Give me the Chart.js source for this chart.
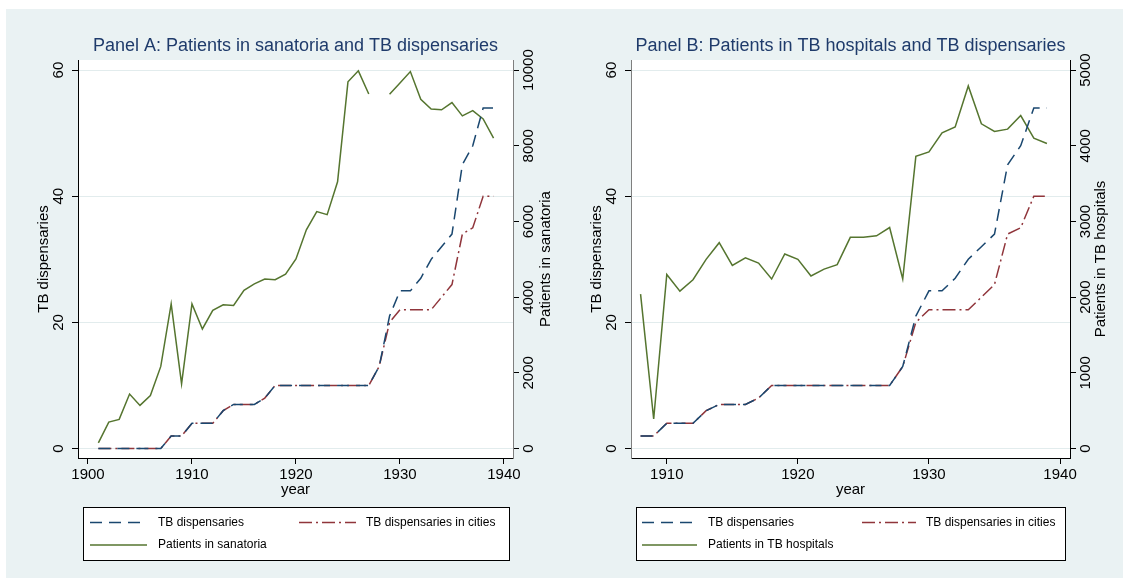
<!DOCTYPE html>
<html>
<head>
<meta charset="utf-8">
<script src="https://cdn.jsdelivr.net/npm/chart.js@4.4.1/dist/chart.umd.min.js"></script>
<style>
body{margin:0;background:#fff;width:1130px;height:586px;position:relative;overflow:hidden}
#bg{position:absolute;left:6px;top:9px;width:1117px;height:569px;background:#eaf2f3}
canvas{position:absolute;top:0}
#cA{left:0}
#cB{left:565px}
</style>
</head>
<body>
<div id="bg"></div>
<canvas id="cA" width="565" height="586"></canvas>
<canvas id="cB" width="565" height="586"></canvas>
<script>
/* ---- data ---- */
var yearsA=[1901,1902,1903,1904,1905,1906,1907,1908,1909,1910,1911,1912,1913,1914,1915,1916,1917,1918,1919,1920,
  1921,1922,1923,1924,1925,1926,1927,1928,1929,1930,1931,1932,1933,1934,1935,1936,1937,1938,1939];
var dispA=[0,0,0,0,0,0,0,2,2,4,4,4,6,7,7,7,8,10,10,10,10,10,10,10,10,10,10,13,21,25,25,27,30,32,34,45,48,54,54];
var citiesA=[0,0,0,0,0,0,0,2,2,4,4,4,6,7,7,7,8,10,10,10,10,10,10,10,10,10,10,13,20,22,22,22,22,24,26,34,35,40,40];
var sanatoria=[150,700,770,1440,1140,1400,2170,3820,1710,3820,3160,3650,3800,3780,4180,4350,4480,4460,4610,5010,
  5780,6260,6180,7050,9690,9980,9370,null,9360,9660,9960,9230,8970,8950,9140,8790,8930,8710,8200];

var yearsB=[1908,1909,1910,1911,1912,1913,1914,1915,1916,1917,1918,1919,1920,1921,1922,1923,1924,1925,1926,1927,
  1928,1929,1930,1931,1932,1933,1934,1935,1936,1937,1938,1939];
var dispB=[2,2,4,4,4,6,7,7,7,8,10,10,10,10,10,10,10,10,10,10,13,21,25,25,27,30,32,34,45,48,54,54];
var citiesB=[2,2,4,4,4,6,7,7,7,8,10,10,10,10,10,10,10,10,10,10,13,20,22,22,22,22,24,26,34,35,40,40];
var hospitals=[2040,390,2300,2080,2230,2500,2720,2420,2520,2450,2240,2570,2500,2280,2370,2430,2790,2790,2810,2920,
  2240,3860,3920,4170,4250,4790,4290,4190,4220,4400,4100,4030];

var ticksXA=[1900,1910,1920,1930,1940];
var ticksXB=[1910,1920,1930,1940];
var ticksLeft=[0,20,40,60];
var ticksRightA=[0,2000,4000,6000,8000,10000];
var ticksRightB=[0,1000,2000,3000,4000,5000];

var FONT='"Liberation Sans",Arial,sans-serif';
var NAVY='#1a476f', MAROON='#90353b', GREEN='#55752f';

function pts(xs,ys){return xs.map(function(v,i){return {x:v,y:ys[i]};});}

function rotText(ctx,txt,x,y){
  ctx.save();ctx.translate(x,y);ctx.rotate(-Math.PI/2);
  ctx.textAlign='center';ctx.textBaseline='middle';ctx.fillText(txt,0,0);ctx.restore();
}

var deco={id:'deco',
  beforeDraw:function(c){
    var a=c.chartArea,x=c.ctx;
    x.save();x.fillStyle='#fff';x.fillRect(a.left,a.top,a.right-a.left,a.bottom-a.top);x.restore();
  },
  afterDraw:function(c){
    var o=c.options.plugins.deco,a=c.chartArea,x=c.ctx,cx=(a.left+a.right)/2,cy=(a.top+a.bottom)/2;
    x.save();
    x.fillStyle='#000';
    x.font='15px '+FONT;
    var sy=c.scales.y,sy1=c.scales.y1;
    sy.ticks.forEach(function(t){rotText(x,String(t.value),a.left-19,sy.getPixelForValue(t.value));});
    sy1.ticks.forEach(function(t){rotText(x,String(t.value),a.right+16,sy1.getPixelForValue(t.value));});
    rotText(x,o.leftTitle,a.left-34,cy);
    rotText(x,o.rightTitle,a.right+o.rightTitleOff,cy);
    x.textAlign='center';x.textBaseline='middle';
    x.fillText('year',cx,490);
    x.fillStyle='#1f3b6b';x.font='18px '+FONT;
    x.fillText(o.title,cx,46);
    // legend
    var L=o.legend;
    x.fillStyle='#fff';x.fillRect(L.x,L.y,L.w,L.h);
    x.strokeStyle='#000';x.lineWidth=1;x.setLineDash([]);
    x.strokeRect(L.x+0.5,L.y+0.5,L.w,L.h);
    x.font='12px '+FONT;x.textAlign='left';x.fillStyle='#000';
    c.data.datasets.forEach(function(d,i){
      var it=L.items[i];
      x.save();
      x.strokeStyle=d.borderColor;x.lineWidth=d.borderWidth;x.setLineDash(d.borderDash||[]);
      x.beginPath();x.moveTo(it[0],it[3]);x.lineTo(it[1],it[3]);x.stroke();
      x.restore();
      x.fillText(d.label,it[2],it[3]);
    });
    x.restore();
  }
};

function makePanel(id,p){
  return new Chart(document.getElementById(id),{
    type:'line',
    data:{datasets:[
      {label:'TB dispensaries',data:pts(p.years,p.disp),yAxisID:'y',borderColor:NAVY,borderWidth:1.5,borderDash:[12,7],pointRadius:0,tension:0},
      {label:'TB dispensaries in cities',data:pts(p.years,p.cities),yAxisID:'y',borderColor:MAROON,borderWidth:1.5,borderDash:[13,4,2,4],pointRadius:0,tension:0},
      {label:p.patLabel,data:pts(p.years,p.pats),yAxisID:'y1',borderColor:GREEN,borderWidth:1.5,pointRadius:0,tension:0,spanGaps:false}
    ]},
    options:{
      responsive:false,animation:false,
      layout:{padding:{top:60,left:0,right:0,bottom:0}},
      plugins:{legend:{display:false},tooltip:{enabled:false},
        deco:{title:p.title,leftTitle:'TB dispensaries',rightTitle:p.patLabel,rightTitleOff:p.rtOff,legend:p.legend}},
      scales:{
        x:{type:'linear',min:p.xmin,max:p.xmax,
          afterBuildTicks:function(s){s.ticks=p.xticks.map(function(v){return {value:v};});},
          afterFit:function(s){s.height=128;},
          grid:{drawOnChartArea:false,tickLength:6,tickColor:'#000'},
          border:{color:'#000',width:1},
          ticks:{color:'#000',font:{family:FONT,size:15},padding:2,maxRotation:0,callback:function(v){return String(v);}}},
        y:{position:'left',min:-1.5,max:61.6,
          afterBuildTicks:function(s){s.ticks=ticksLeft.map(function(v){return {value:v};});},
          afterFit:function(s){s.width=p.lw;},
          grid:{color:'#e2eced',lineWidth:1,tickLength:6,tickColor:'#000'},
          border:{color:p.lcol,width:1},
          ticks:{display:false}},
        y1:{position:'right',min:p.rmin,max:p.rmax,
          afterBuildTicks:function(s){s.ticks=p.rticks.map(function(v){return {value:v};});},
          afterFit:function(s){s.width=p.rw;},
          grid:{drawOnChartArea:false,tickLength:6,tickColor:'#000'},
          border:{color:p.rcol,width:1},
          ticks:{display:false}}
      }
    },
    plugins:[deco]
  });
}

makePanel('cA',{years:yearsA,disp:dispA,cities:citiesA,pats:sanatoria,patLabel:'Patients in sanatoria',
  title:'Panel A: Patients in sanatoria and TB dispensaries',
  xmin:1899.04,xmax:1940.87,xticks:ticksXA,rticks:ticksRightA,rmin:-250,rmax:10266.7,
  lw:78,rw:52,lcol:'#000',rcol:'#7f7f7f',rtOff:33,
  legend:{x:83,y:507,w:426,h:53,items:[[90,147,158,522.5],[299,356,366,522.5],[90,147,158,545]]}});

makePanel('cB',{years:yearsB,disp:dispB,cities:citiesB,pats:hospitals,patLabel:'Patients in TB hospitals',
  title:'Panel B: Patients in TB hospitals and TB dispensaries',
  xmin:1907.27,xmax:1940.76,xticks:ticksXB,rticks:ticksRightB,rmin:-125,rmax:5133.3,
  lw:66,rw:60,lcol:'#7f7f7f',rcol:'#000',rtOff:31,
  legend:{x:71,y:507,w:429,h:53,items:[[77,132,143,522.5],[297,351,361,522.5],[77,132,143,545]]}});
</script>
</body>
</html>
